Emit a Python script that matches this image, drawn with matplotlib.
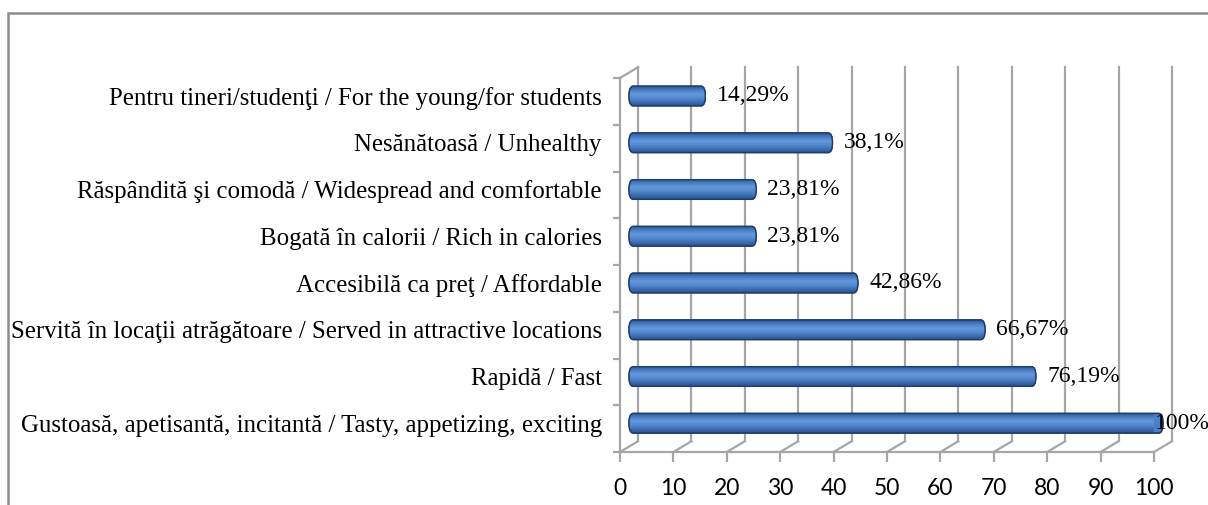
import numpy as np
import matplotlib; matplotlib.use("Agg")
import matplotlib.pyplot as plt
from matplotlib.patches import FancyBboxPatch, Rectangle
from matplotlib.colors import LinearSegmentedColormap

categories = [
    "Pentru tineri/studenţi / For the young/for students",
    "Nesănătoasă / Unhealthy",
    "Răspândită şi comodă / Widespread and comfortable",
    "Bogată în calorii / Rich in calories",
    "Accesibilă ca preţ / Affordable",
    "Servită în locaţii atrăgătoare / Served in attractive locations",
    "Rapidă / Fast",
    "Gustoasă, apetisantă, incitantă / Tasty, appetizing, exciting",
]
values = [14.29, 38.1, 23.81, 23.81, 42.86, 66.67, 76.19, 100]
xticks = [0, 10, 20, 30, 40, 50, 60, 70, 80, 90, 100]

W, H = 1208, 505
fig = plt.figure(figsize=(W / 100, H / 100), dpi=100)
fig.patch.set_facecolor("white")

# outer frame (cropped at right/bottom)
fig.patches.append(Rectangle((8 / W, -0.2), 1.2, 1.2 - 13 / H,
                             transform=fig.transFigure, fill=False,
                             edgecolor="#8c8c8c", lw=1.8))

ax = fig.add_axes([620 / W, 53 / H, 534 / W, 374 / H])
n = len(categories)
pos = np.arange(n)[::-1]           # top category at top
dx, dy = 3.37, 0.23                # fake 3D depth in data units
grid_c = "#a6a6a6"

# back-wall gridlines + floor diagonals
for t in xticks:
    ax.plot([t + dx, t + dx], [-0.5 + dy, n - 0.5 + dy], color=grid_c, lw=1.6,
            clip_on=False, zorder=1)
    ax.plot([t, t + dx], [-0.5, -0.5 + dy], color=grid_c, lw=1.6,
            clip_on=False, zorder=1)
ax.plot([0, dx], [n - 0.5, n - 0.5 + dy], color=grid_c, lw=1.6, clip_on=False, zorder=1)

# cylinder-like bars
grad = np.linspace(0, 1, 64).reshape(-1, 1)
cmap = LinearSegmentedColormap.from_list(
    "cyl", ["#2a5290", "#3d6fb2", "#5589d0", "#6498dc", "#4a7dc2", "#2e5a96"])
bh = 0.42
for p, v in zip(pos, values):
    yc = p + dy / 2
    box = FancyBboxPatch((dx / 2, yc - bh / 2), v, bh,
                         boxstyle="round,pad=0,rounding_size=0.8",
                         mutation_aspect=0.26, facecolor="#4a7ec6",
                         edgecolor="#1f3d6a", lw=1.0, zorder=3, clip_on=False)
    ax.add_patch(box)
    im = ax.imshow(grad, extent=[dx / 2 - 1, dx / 2 + v + 1, yc - bh / 2, yc + bh / 2],
                   aspect="auto", cmap=cmap, origin="lower", zorder=3.5,
                   interpolation="bilinear")
    im.set_clip_path(box)
    edge = FancyBboxPatch((dx / 2, yc - bh / 2), v, bh,
                          boxstyle="round,pad=0,rounding_size=0.8",
                          mutation_aspect=0.26, facecolor="none",
                          edgecolor="#1f3d6a", lw=1.0, zorder=4, clip_on=False)
    ax.add_patch(edge)
    lab = f"{v:g}".replace(".", ",") + "%"
    ax.text(min(v + 3.8, 100.2), yc, lab, ha="left", va="center",
            fontsize=17, family="Liberation Serif", color="black", zorder=5)

ax.set_xlim(0, 100)
ax.set_ylim(-0.5, n - 0.5)
ax.set_xticks(xticks)
ax.set_xticklabels([str(t) for t in xticks], fontsize=16.5, family="Lato")
ax.set_yticks(pos + dy / 2)
ax.set_yticklabels(categories, fontsize=17.9, family="Liberation Serif")
ax.set_yticks(np.arange(n + 1) - 0.5, minor=True)
ax.tick_params(axis="y", which="major", length=0, pad=13)
ax.tick_params(axis="y", which="minor", length=5, width=1.6, color=grid_c)
ax.tick_params(axis="x", length=7, width=1.6, color=grid_c, pad=12)
for s in ["top", "right"]:
    ax.spines[s].set_visible(False)
for s in ["left", "bottom"]:
    ax.spines[s].set_color(grid_c)
    ax.spines[s].set_linewidth(1.6)
ax.set_facecolor("none")

fig.savefig("out.png", dpi=100, facecolor="white")
